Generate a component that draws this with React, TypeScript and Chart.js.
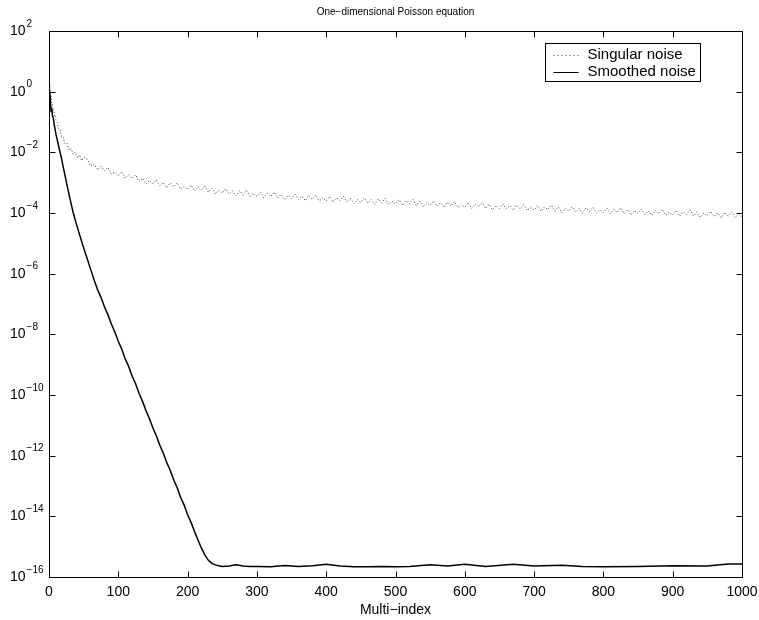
import React, { useEffect, useRef } from "react";
import { Chart, registerables } from "chart.js";

Chart.register(...registerables);

const TITLE = "One−dimensional Poisson equation";
const X_LABEL = "Multi−index";
const SERIES_NAMES = ["Singular noise", "Smoothed noise"];
const X_TICKS = [0, 100, 200, 300, 400, 500, 600, 700, 800, 900, 1000];
const Y_TICK_EXPONENTS = [2, 0, -2, -4, -6, -8, -10, -12, -14, -16];

// Singular noise: index and log10 of value
const SINGULAR_X = [
  0, 1, 2, 3, 4, 5, 6, 7, 8, 9, 10, 12, 14, 16, 18, 20, 23, 26, 29, 32, 35, 38, 41, 44, 47, 50,
  55, 60, 65, 70, 75, 80, 85, 90, 95, 100, 105, 110, 115, 120, 125, 130, 135, 140, 145, 150,
  155, 160, 165, 170, 175, 180, 185, 190, 195, 200, 205, 210, 215, 220, 225, 230, 235, 240, 245, 250,
  255, 260, 265, 270, 275, 280, 285, 290, 295, 300, 305, 310, 315, 320, 325, 330, 335, 340, 345, 350,
  355, 360, 365, 370, 375, 380, 385, 390, 395, 400, 405, 410, 415, 420, 425, 430, 435, 440, 445, 450,
  455, 460, 465, 470, 475, 480, 485, 490, 495, 500, 505, 510, 515, 520, 525, 530, 535, 540, 545, 550,
  555, 560, 565, 570, 575, 580, 585, 590, 595, 600, 605, 610, 615, 620, 625, 630, 635, 640, 645, 650,
  655, 660, 665, 670, 675, 680, 685, 690, 695, 700, 705, 710, 715, 720, 725, 730, 735, 740, 745, 750,
  755, 760, 765, 770, 775, 780, 785, 790, 795, 800, 805, 810, 815, 820, 825, 830, 835, 840, 845, 850,
  855, 860, 865, 870, 875, 880, 885, 890, 895, 900, 905, 910, 915, 920, 925, 930, 935, 940, 945, 950,
  955, 960, 965, 970, 975, 980, 985, 990, 995, 1000,
];
const SINGULAR_LOG = [
  0.45, 0.28, -0.05, -0.12, -0.38, -0.4, -0.62, -0.6, -0.8, -0.78, -0.95, -1.0, -1.24, -1.26, -1.48, -1.47, -1.71, -1.7, -1.93, -1.88, -2.07, -1.99, -2.18, -2.09, -2.28, -2.17,
  -2.22, -2.45, -2.38, -2.58, -2.45, -2.61, -2.5, -2.72, -2.65, -2.77, -2.65, -2.86, -2.74, -2.86, -2.74, -2.96, -2.85, -3.05, -2.93, -3.04,
  -2.91, -3.1, -3.0, -3.17, -3.0, -3.14, -3.01, -3.21, -3.12, -3.22, -3.08, -3.28, -3.14, -3.24, -3.11, -3.31, -3.18, -3.37, -3.24, -3.34,
  -3.2, -3.38, -3.27, -3.43, -3.26, -3.39, -3.25, -3.45, -3.35, -3.45, -3.31, -3.5, -3.35, -3.45, -3.31, -3.51, -3.38, -3.56, -3.42, -3.52,
  -3.38, -3.55, -3.44, -3.6, -3.42, -3.55, -3.41, -3.61, -3.5, -3.6, -3.46, -3.64, -3.5, -3.59, -3.45, -3.64, -3.51, -3.69, -3.55, -3.65,
  -3.5, -3.68, -3.56, -3.72, -3.54, -3.67, -3.52, -3.72, -3.61, -3.71, -3.56, -3.75, -3.6, -3.7, -3.55, -3.75, -3.61, -3.8, -3.65, -3.75,
  -3.6, -3.78, -3.66, -3.82, -3.64, -3.77, -3.62, -3.82, -3.71, -3.81, -3.66, -3.85, -3.7, -3.8, -3.65, -3.85, -3.71, -3.9, -3.75, -3.85,
  -3.7, -3.87, -3.76, -3.91, -3.74, -3.86, -3.72, -3.91, -3.81, -3.9, -3.76, -3.94, -3.8, -3.89, -3.74, -3.94, -3.8, -3.99, -3.84, -3.94,
  -3.79, -3.97, -3.85, -4.01, -3.83, -3.95, -3.81, -4.0, -3.9, -3.99, -3.84, -4.03, -3.88, -3.98, -3.83, -4.02, -3.89, -4.07, -3.92, -4.02,
  -3.87, -4.05, -3.93, -4.08, -3.91, -4.03, -3.88, -4.08, -3.97, -4.06, -3.92, -4.1, -3.96, -4.05, -3.9, -4.1, -3.96, -4.15, -4.0, -4.09,
  -3.95, -4.12, -4.0, -4.16, -3.98, -4.1, -3.96, -4.15, -4.04, -4.14,
];

// Smoothed noise: index and log10 of value
const SMOOTHED_X = [
  0, 1, 2, 3, 4, 5, 6, 8, 10, 12, 14, 16, 18, 20, 23, 26, 30, 35, 40, 45, 50, 55, 60,
  65, 70, 75, 80, 85, 90, 95, 100, 105, 110, 115, 120, 125, 130, 135, 140, 145, 150,
  155, 160, 165, 170, 175, 180, 185, 190, 195, 200, 205, 210, 215, 220, 225, 230, 235, 240, 245, 250,
  260, 270, 280, 290, 300, 320, 340, 360, 380, 400, 420, 440, 460, 480, 500, 520, 550, 575, 600,
  630, 670, 700, 740, 770, 800, 850, 900, 950, 980, 1000,
];
const SMOOTHED_LOG = [
  0.0, -0.45, -0.3, -0.65, -0.55, -0.8, -0.85, -1.15, -1.4, -1.6, -1.8, -2.0, -2.2, -2.42, -2.75, -3.08, -3.5, -4.0, -4.4, -4.78, -5.15, -5.5, -5.85,
  -6.2, -6.52, -6.78, -7.09, -7.35, -7.66, -7.92, -8.23, -8.49, -8.81, -9.06, -9.38, -9.63, -9.95, -10.21, -10.52, -10.78, -11.09,
  -11.35, -11.66, -11.92, -12.23, -12.49, -12.8, -13.06, -13.38, -13.63, -13.95, -14.2, -14.5, -14.78, -15.05, -15.28, -15.45, -15.55, -15.6, -15.63, -15.65,
  -15.64, -15.6, -15.64, -15.65, -15.65, -15.66, -15.62, -15.65, -15.63, -15.58, -15.64, -15.66, -15.66, -15.65, -15.66, -15.65, -15.6, -15.64, -15.58,
  -15.65, -15.58, -15.64, -15.61, -15.65, -15.66, -15.65, -15.63, -15.64, -15.57, -15.57,
];

const FONT = '"Liberation Sans", Arial, Helvetica, sans-serif';

const decorPlugin = {
  id: "matlabDecor",
  afterDraw(chart: any) {
    const ctx = chart.ctx as CanvasRenderingContext2D;
    const area = chart.chartArea;
    const xs = chart.scales.x;
    const ys = chart.scales.y;
    const L = Math.round(area.left) + 0.5;
    const R = Math.round(area.right) + 0.5;
    const T = Math.round(area.top) + 0.5;
    const B = Math.round(area.bottom) + 0.5;
    const tickLen = 6;
    ctx.save();
    ctx.strokeStyle = "#000";
    ctx.lineWidth = 1;
    ctx.setLineDash([]);
    ctx.strokeRect(L, T, R - L, B - T);

    ctx.beginPath();
    X_TICKS.forEach((v) => {
      const px = Math.round(xs.getPixelForValue(v)) + 0.5;
      ctx.moveTo(px, B);
      ctx.lineTo(px, B - tickLen);
      ctx.moveTo(px, T);
      ctx.lineTo(px, T + tickLen);
    });
    Y_TICK_EXPONENTS.forEach((e) => {
      const py = Math.round(ys.getPixelForValue(Math.pow(10, e))) + 0.5;
      ctx.moveTo(L, py);
      ctx.lineTo(L + tickLen, py);
      ctx.moveTo(R, py);
      ctx.lineTo(R - tickLen, py);
    });
    ctx.stroke();

    ctx.fillStyle = "#000";
    // X tick labels
    ctx.font = `14px ${FONT}`;
    ctx.textAlign = "center";
    ctx.textBaseline = "middle";
    X_TICKS.forEach((v) => {
      const px = xs.getPixelForValue(v);
      ctx.fillText(String(v), px, B + 15);
    });

    // Y tick labels 10^e
    Y_TICK_EXPONENTS.forEach((e) => {
      const py = ys.getPixelForValue(Math.pow(10, e));
      ctx.font = `14px ${FONT}`;
      ctx.textAlign = "left";
      ctx.textBaseline = "middle";
      const baseX = 10;
      ctx.fillText("10", baseX, py);
      const w = ctx.measureText("10").width;
      ctx.font = `10px ${FONT}`;
      const expText = e < 0 ? "−" + String(-e) : String(e);
      ctx.fillText(expText, baseX + w + 1, py - 7);
    });

    // Title
    ctx.font = `10px ${FONT}`;
    ctx.textAlign = "center";
    ctx.textBaseline = "middle";
    ctx.fillText(TITLE, (area.left + area.right) / 2, 12);

    // X label
    ctx.font = `14px ${FONT}`;
    ctx.fillText(X_LABEL, (area.left + area.right) / 2, B + 33);

    // Legend
    const boxR = Math.round(area.right) - 42 + 0.5;
    const boxL = boxR - 155;
    const boxT = Math.round(area.top) + 12 + 0.5;
    const boxB = boxT + 38;
    ctx.fillStyle = "#fff";
    ctx.fillRect(boxL, boxT, boxR - boxL, boxB - boxT);
    ctx.strokeStyle = "#000";
    ctx.lineWidth = 1;
    ctx.strokeRect(boxL, boxT, boxR - boxL, boxB - boxT);
    const row1 = boxT + 11;
    const row2 = boxT + 28;
    // dotted sample
    ctx.strokeStyle = "#444";
    ctx.setLineDash([1, 3]);
    ctx.beginPath();
    ctx.moveTo(boxL + 8, Math.round(row1) + 0.5);
    ctx.lineTo(boxL + 33, Math.round(row1) + 0.5);
    ctx.stroke();
    ctx.setLineDash([]);
    ctx.strokeStyle = "#000";
    ctx.beginPath();
    ctx.moveTo(boxL + 8, Math.round(row2) + 0.5);
    ctx.lineTo(boxL + 33, Math.round(row2) + 0.5);
    ctx.stroke();
    ctx.fillStyle = "#000";
    ctx.font = `15px ${FONT}`;
    ctx.textAlign = "left";
    ctx.textBaseline = "middle";
    ctx.fillText(SERIES_NAMES[0], boxL + 42, row1);
    ctx.fillText(SERIES_NAMES[1], boxL + 42, row2);
    ctx.restore();
  },
};

export default function App() {
  const canvasRef = useRef<HTMLCanvasElement | null>(null);
  useEffect(() => {
    if (!canvasRef.current) return;
    const singular = SINGULAR_X.map((x, i) => ({ x, y: Math.pow(10, SINGULAR_LOG[i]) }));
    const smoothed = SMOOTHED_X.map((x, i) => ({ x, y: Math.pow(10, SMOOTHED_LOG[i]) }));
    const chart = new Chart(canvasRef.current, {
      type: "line",
      data: {
        datasets: [
          {
            label: SERIES_NAMES[0],
            data: singular,
            borderColor: "#3a3a3a",
            borderWidth: 1,
            borderDash: [1, 2],
            pointRadius: 0,
            tension: 0,
            fill: false,
          },
          {
            label: SERIES_NAMES[1],
            data: smoothed,
            borderColor: "#000",
            borderWidth: 1.5,
            pointRadius: 0,
            tension: 0,
            fill: false,
          },
        ],
      },
      options: {
        animation: false,
        responsive: false,
        devicePixelRatio: 1,
        layout: { padding: { left: 49, right: 17, top: 31, bottom: 43 } },
        plugins: {
          legend: { display: false },
          title: { display: false },
          tooltip: { enabled: false },
        },
        scales: {
          x: { type: "linear", min: 0, max: 1000, display: false },
          y: { type: "logarithmic", min: 1e-16, max: 1e2, display: false },
        },
      },
      plugins: [decorPlugin],
    });
    return () => chart.destroy();
  }, []);
  return (
    <div style={{ position: "fixed", left: 0, top: 0, width: 759, height: 620, background: "#fff" }}>
      <canvas ref={canvasRef} width={759} height={620} style={{ display: "block" }} />
    </div>
  );
}
